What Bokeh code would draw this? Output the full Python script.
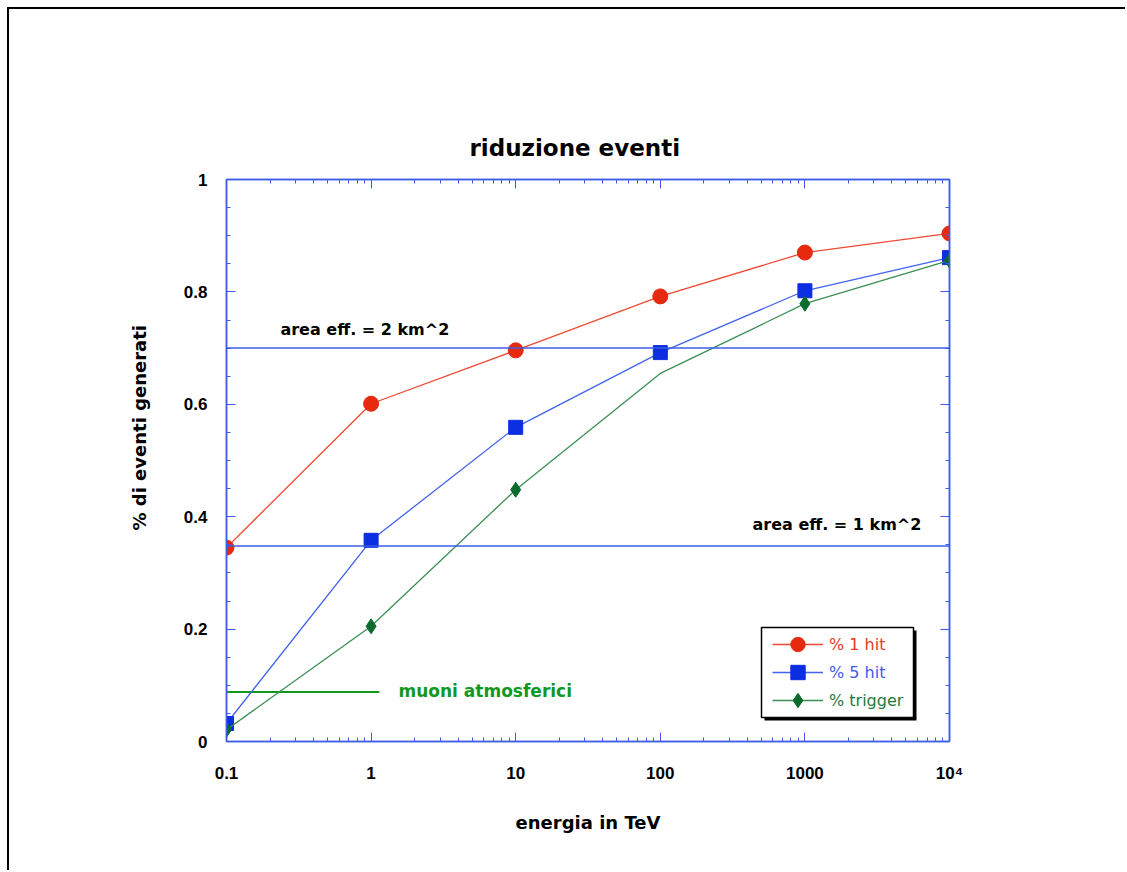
from bokeh.plotting import figure
from bokeh.models import (Range1d, LogAxis, LinearAxis, LogTicker, SingleIntervalTicker,
                          CustomJSTickFormatter, Span, Label, Legend, LegendItem, BoxAnnotation,
                          Title)
from bokeh.embed import file_html
from bokeh.resources import INLINE

# ---------------- data ----------------
energy = [0.1, 1, 10, 100, 1000, 10000]          # TeV
hit1 = [0.345, 0.601, 0.696, 0.792, 0.870, 0.904]
hit5 = [0.032, 0.358, 0.559, 0.692, 0.802, 0.861]
trigger = [0.021, 0.205, 0.448, 0.655, 0.779, 0.856]
trigger_marked = [True, True, True, False, True, True]
x_ticks = [0.1, 1, 10, 100, 1000, 10000]
x_tick_labels = ["0.1", "1", "10", "100", "1000", "10\u2074"]
area_2km_level = 0.70
area_1km_level = 0.348
muoni_energy = [0.1, 1.14]
muoni_level = [0.088, 0.088]

# ---------------- styles ----------------
AX = "#3d5ce8"
RED_M, RED_L, RED_T = "#e62a10", "#ee4a33", "#e83b24"
BLU_M, BLU_L, BLU_T = "#0b2ee0", "#4163ef", "#3a5ef0"
GRN_M, GRN_L, GRN_T = "#0a6b2c", "#3b8f55", "#1f7a3c"
MU = "#13981f"
BOLD = "DejaVu Sans"

p = figure(width=1118, height=863, x_axis_type="log",
           x_range=Range1d(0.1, 10000), y_range=Range1d(0, 1),
           output_backend="svg", toolbar_location=None,
           min_border_left=217, min_border_right=178,
           min_border_top=170, min_border_bottom=131)
p.styles = {"margin-left": "7px", "margin-top": "7px",
            "border-top": "2px solid black", "border-left": "2px solid black"}
p.xgrid.visible = False
p.ygrid.visible = False
p.outline_line_color = AX
p.outline_line_width = 1.5
p.background_fill_color = "white"
p.border_fill_color = "white"

def style_axis(ax):
    ax.axis_line_color = AX
    ax.axis_line_width = 1.5
    ax.major_tick_line_color = AX
    ax.minor_tick_line_color = AX
    ax.major_tick_in = 9
    ax.major_tick_out = 0
    ax.minor_tick_in = 4
    ax.minor_tick_out = 0

xfmt = CustomJSTickFormatter(args=dict(vals=x_ticks, labels=x_tick_labels), code="""
    for (let i = 0; i < vals.length; i++) {
        if (Math.abs(Math.log10(vals[i]) - Math.log10(tick)) < 1e-6) return labels[i];
    }
    return "";
""")
yfmt = CustomJSTickFormatter(code="return (Math.round(tick * 10) / 10).toString();")

xa = p.xaxis[0]
style_axis(xa)
xa.ticker = LogTicker(num_minor_ticks=10)
xa.formatter = xfmt
xa.major_label_text_font = "Liberation Sans"
xa.major_label_text_font_style = "bold"
xa.major_label_text_font_size = "17px"
xa.major_label_text_color = "black"
xa.major_label_standoff = 22
xa.axis_label = "energia in TeV"
xa.axis_label_text_font = BOLD
xa.axis_label_text_font_style = "bold"
xa.axis_label_text_font_size = "18px"
xa.axis_label_text_color = "black"
xa.axis_label_standoff = 26

ya = p.yaxis[0]
style_axis(ya)
ya.ticker = SingleIntervalTicker(interval=0.2, num_minor_ticks=4)
ya.formatter = yfmt
ya.major_label_text_font = "Liberation Sans"
ya.major_label_text_font_style = "bold"
ya.major_label_text_font_size = "17px"
ya.major_label_text_color = "black"
ya.major_label_standoff = 19

top = LogAxis(ticker=LogTicker(num_minor_ticks=10),
              formatter=CustomJSTickFormatter(code="return '';"))
style_axis(top)
p.add_layout(top, "above")
right = LinearAxis(ticker=SingleIntervalTicker(interval=0.2, num_minor_ticks=4),
                   formatter=CustomJSTickFormatter(code="return '';"))
style_axis(right)
p.add_layout(right, "right")

# title and y-axis label as titles (offset allowed)
p.add_layout(Title(text="riduzione eventi", align="left", offset=243, standoff=38,
                   text_font=BOLD, text_font_style="bold", text_font_size="23px",
                   text_color="black"), "above")
p.add_layout(Title(text="% di eventi generati", align="left", offset=211, standoff=62,
                   text_font=BOLD, text_font_style="bold", text_font_size="18px",
                   text_color="black"), "left")

# reference lines
p.add_layout(Span(location=area_2km_level, dimension="width", line_color=AX, line_width=1.5))
p.add_layout(Span(location=area_1km_level, dimension="width", line_color=AX, line_width=1.5))
p.line(muoni_energy, muoni_level, line_color=MU, line_width=2)

# series
l1 = p.line(energy, hit1, line_color=RED_L, line_width=1.3)
s1 = p.scatter(energy, hit1, marker="circle", size=15, fill_color=RED_M, line_color=RED_M)
l5 = p.line(energy, hit5, line_color=BLU_L, line_width=1.3)
s5 = p.scatter(energy, hit5, marker="square", size=14, fill_color=BLU_M, line_color=BLU_M)
lt = p.line(energy, trigger, line_color=GRN_L, line_width=1.3)
tx = [e for e, m in zip(energy, trigger_marked) if m]
ty = [v for v, m in zip(trigger, trigger_marked) if m]
st = p.scatter(tx, ty, marker="diamond", size=15, fill_color=GRN_M, line_color=GRN_M)

# annotations
p.add_layout(Label(x=0.236, y=0.733, text="area eff. = 2 km^2", text_font=BOLD,
                   text_font_style="bold", text_font_size="16px", text_color="black",
                   text_baseline="middle", text_align="left"))
p.add_layout(Label(x=434, y=0.386, text="area eff. = 1 km^2", text_font=BOLD,
                   text_font_style="bold", text_font_size="16px", text_color="black",
                   text_baseline="middle", text_align="left"))
p.add_layout(Label(x=1.547, y=0.089, text="muoni atmosferici", text_font=BOLD,
                   text_font_style="bold", text_font_size="17px", text_color=MU,
                   text_baseline="middle", text_align="left"))

# legend box with shadow
p.add_layout(BoxAnnotation(left=538, right=690, top=111, bottom=21,
                           left_units="screen", right_units="screen",
                           top_units="screen", bottom_units="screen",
                           fill_color="black", fill_alpha=1, line_color=None))
p.add_layout(BoxAnnotation(left=535, right=687, top=114, bottom=24,
                           left_units="screen", right_units="screen",
                           top_units="screen", bottom_units="screen",
                           fill_color="white", fill_alpha=1, line_color="black",
                           line_width=1.5, line_alpha=1))

for label, rends, color, ybot in [("% 1 hit", [l1, s1], RED_T, 79),
                                  ("% 5 hit", [l5, s5], BLU_T, 51),
                                  ("% trigger", [lt, st], GRN_T, 23)]:
    lg = Legend(items=[LegendItem(label=label, renderers=rends)], location=(546, ybot),
                padding=0, margin=0, spacing=0, glyph_width=51, glyph_height=36,
                label_height=36, label_standoff=6, label_text_font=BOLD,
                label_text_font_size="16px", label_text_color=color,
                border_line_color=None, background_fill_alpha=0)
    p.add_layout(lg, "center")

open("out.html", "w").write(file_html(p, INLINE))
